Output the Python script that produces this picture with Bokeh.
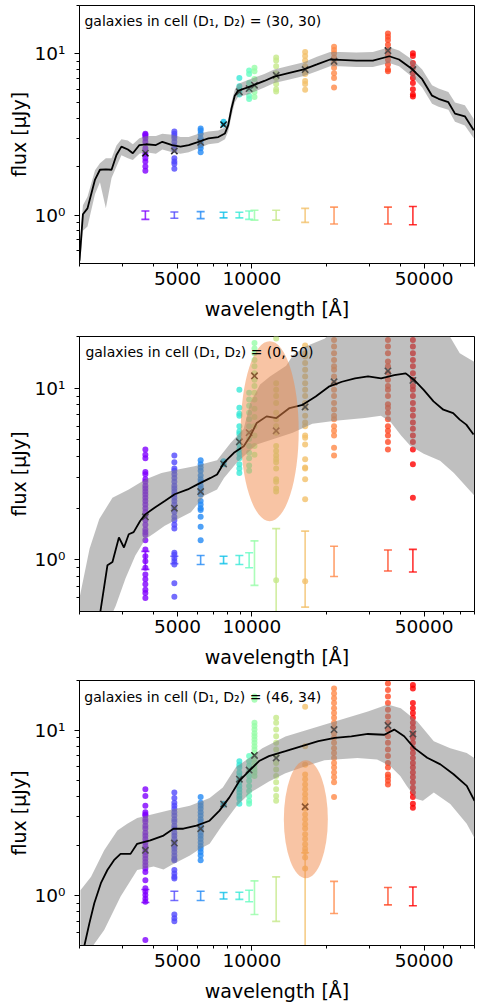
import math
from bokeh.plotting import figure
from bokeh.layouts import column
from bokeh.models import FixedTicker, CustomJSTickFormatter, Label, Range1d
from bokeh.embed import file_html
from bokeh.resources import INLINE

# ---------------- data ----------------
FILTERS = ["u", "g", "r", "i", "z", "y", "Y", "J", "H", "Ks", "ch1", "ch2"]
FILTER_WL = [3700, 4850, 6200, 7680, 8900, 9750, 10250, 12550, 16450, 21550, 35650, 45000]
CELLS = ["(30, 30)", "(0, 50)", "(46, 34)"]

# panel 1 : cell (30, 30)
P1_WL = [2000, 2065, 2155, 2312, 2421, 2558, 2698, 2825, 2958, 3143, 3291, 3499, 3722, 4083, 4335,
         4754, 5138, 5546, 6081, 6668, 7311, 7780, 8017, 8265, 8526, 8790, 9638, 10403, 11240, 12325,
         13932, 16255, 18365, 20767, 22769, 26546, 30954, 36094, 39540, 44770, 49090, 53830, 57180,
         62670, 66680, 73110, 79430]
P1_MED = [0.52, 1.01, 1.1, 1.66, 1.91, 1.92, 1.91, 2.36, 2.66, 2.55, 2.42, 2.72, 2.75, 2.72, 2.85,
          2.72, 2.66, 2.72, 2.85, 2.99, 3.05, 3.21, 3.6, 4.57, 5.51, 5.91, 6.2, 6.5, 6.8, 7.24,
          7.59, 8.03, 8.61, 9.24, 9.2, 9.1, 9.1, 9.68, 9.24, 8.03, 6.97, 5.51, 5.27,
          5.02, 4.26, 4.1, 3.36]
P1_HI = [0.62, 1.15, 1.3, 1.9, 2.1, 2.25, 2.25, 2.7, 2.95, 2.9, 2.75, 3.0, 3.1, 3.1, 3.2,
         3.15, 3.05, 3.05, 3.2, 3.3, 3.35, 3.5, 3.9, 5.0, 6.0, 6.5, 6.9, 7.2, 7.5, 8.0,
         8.4, 8.9, 9.6, 10.3, 10.3, 10.2, 10.3, 11.0, 10.5, 9.2, 8.0, 6.4, 6.1,
         5.8, 5.0, 4.8, 3.95]
P1_LO = [0.45, 0.8, 0.85, 1.35, 1.6, 1.1, 1.7, 2.0, 2.35, 2.25, 2.2, 2.4, 2.45, 2.4, 2.55,
         2.45, 2.4, 2.45, 2.6, 2.75, 2.8, 2.95, 3.3, 4.1, 5.0, 5.4, 5.6, 5.9, 6.2, 6.6,
         6.9, 7.3, 7.8, 8.4, 8.4, 8.3, 8.3, 8.8, 8.4, 7.2, 6.2, 4.9, 4.7,
         4.5, 3.8, 3.6, 3.0]
P1_POINTS = {
    "u": [3.2, 3.15, 3.1, 3.0, 2.85, 2.6, 2.4, 2.25, 2.15, 2.0, 1.88],
    "g": [3.3, 3.2, 3.1, 3.0, 2.85, 2.7, 2.55, 2.25, 2.15, 2.08, 1.94],
    "r": [3.45, 3.35, 3.2, 3.0, 2.9, 2.8, 2.7, 2.6, 2.45],
    "i": [3.8, 3.65],
    "z": [7.1, 6.3, 6.0, 5.8, 5.6],
    "y": [7.9, 7.5, 6.6, 6.05, 5.5, 5.25],
    "Y": [8.2, 7.8, 7.0, 6.3, 5.8, 5.4],
    "J": [9.5, 9.1, 8.4, 7.6, 7.1, 6.5, 6.05, 5.85],
    "H": [10.3, 9.7, 9.1, 8.4, 7.8, 7.5, 6.8, 6.5, 6.0],
    "Ks": [11.1, 10.6, 10.1, 9.5, 8.8, 8.2, 7.6, 7.1, 6.2],
    "ch1": [13.4, 12.8, 12.2, 11.4, 10.6, 9.9, 9.2, 8.6, 8.0, 7.8],
    "ch2": [10.1, 9.7, 8.8, 8.2, 7.6, 7.1, 6.6, 6.05, 5.6, 5.45],
}
P1_MODEL = [2.42, 2.5, 2.83, 3.64, 5.82, 6.1, 6.4, 7.37, 8.0, 9.0, 10.5, 8.0]
P1_ERR = [0.06, 0.045, 0.05, 0.04, 0.04, 0.06, 0.07, 0.07, 0.1, 0.12, 0.12, 0.13]

# panel 2 : cell (0, 50)
P2_WL = [2420, 2597, 2721, 2890, 3030, 3168, 3316, 3528, 3697, 4045, 4434, 4864, 5496, 6020, 6802,
         7227, 7714, 8458, 9273, 9848, 10469, 11475, 12580, 14220, 16070, 18160, 20520, 23190,
         26210, 29610, 33460, 37810, 42090, 45420, 49770, 54560, 59790, 65550, 69700, 74090, 79270]
P2_MED = [0.48, 0.93, 0.97, 1.35, 1.18, 1.41, 1.45, 1.69, 1.84, 2.02, 2.2, 2.41, 2.57, 2.75, 3.0,
          3.14, 3.68, 4.2, 4.59, 5.25, 6.27, 6.85, 6.7, 7.66, 8.0, 8.95, 10.2, 10.9,
          11.4, 11.7, 11.4, 11.9, 12.2, 11.2, 9.78, 8.37, 7.49, 7.16, 6.56, 6.13, 5.37]
P2_HI_WL = [2000, 2197, 2406, 2721, 3168, 3697, 4301, 5010, 5846, 7227, 8200, 9270, 9850, 10800,
            11840, 13780, 14650, 16500, 19800, 23200, 62000, 63550, 69700, 80000]
P2_HI = [0.6, 1.16, 1.73, 2.3, 2.57, 2.94, 3.21, 3.36, 3.51, 3.8, 4.8, 5.8, 8.2, 10.5,
         11.7, 13.5, 15.5, 17.5, 19.5, 25, 25, 20, 16, 14.2]
P2_LO_WL = [2000, 2650, 2806, 3075, 3369, 3697, 4045, 4434, 5010, 5661, 6407, 7227, 7710, 8715,
            10470, 14650, 17600, 21800, 28700, 33400, 36700, 40300, 44000, 49800, 58000, 66000, 80000]
P2_LO = [0.3, 0.45, 0.54, 0.78, 1.06, 1.32, 1.44, 1.58, 1.73, 1.89, 2.36, 2.57, 3.0, 3.7,
         4.7, 5.5, 6.2, 6.45, 6.7, 6.9, 6.3, 5.3, 4.6, 4.15, 3.78, 3.2, 2.36]
P2_POINTS = {
    "u": [4.4, 4.1, 3.9, 3.25, 3.15, 2.95, 2.85, 2.7, 2.6, 2.5, 2.4, 2.3, 2.2, 2.1, 2.0, 1.9, 1.8,
          1.7, 1.6, 1.5, 1.45, 1.4, 1.3, 1.15, 1.05, 0.98, 0.9, 0.82, 0.77, 0.72, 0.67, 0.64, 0.6],
    "g": [4.05, 3.7, 3.4, 3.3, 3.15, 3.0, 2.85, 2.7, 2.6, 2.5, 2.4, 2.3, 2.2, 2.1, 2.0, 1.9, 1.78,
          1.7, 1.6, 1.52, 1.1, 1.07, 1.02, 0.98, 0.94, 0.73, 0.61],
    "r": [3.8, 3.6, 3.45, 3.3, 3.1, 2.95, 2.85, 2.7, 2.6, 2.5, 2.4, 2.2, 2.1, 2.0, 1.95, 1.78, 1.56, 1.3],
    "i": [3.75, 3.6],
    "z": [9.8, 7.7, 7.1, 6.9, 6.0, 5.6, 5.4, 5.05, 4.7, 4.4, 4.15, 3.9, 3.6, 3.4, 3.2],
    "y": [9.4, 8.6, 7.9, 7.2, 6.6, 6.0, 5.5, 5.05, 4.6, 4.2, 3.9, 3.55, 3.3],
    "Y": [18.3, 17, 16, 14.6, 13.4, 12.2, 11.2, 10.3, 9.4, 8.6, 7.6, 6.8, 6.0, 5.3, 4.6, 4.1],
    "J": [19.5, 10.7, 9.8, 9.0, 8.2, 7.2, 6.6, 6.0, 5.5, 4.6, 4.3, 4.05, 3.85, 3.7, 3.4, 2.95, 2.85,
          2.6, 2.5, 0.76],
    "H": [17.7, 16, 15.3, 14, 12.8, 11.7, 10.7, 9.8, 9.0, 8.2, 7.7, 6.9, 6.3, 6.0, 5.3, 5.15, 4.7,
          3.85, 3.45, 3.4, 2.95, 2.25, 0.75],
    "Ks": [19.1, 17.5, 16, 14.6, 13.4, 12.8, 11.7, 10.7, 9.8, 9.0, 8.2, 7.5, 6.9, 6.6, 6.0, 5.65,
           5.3, 4.5, 4.05],
    "ch1": [19.1, 17.5, 16, 14.3, 13.4, 12.3, 11.2, 10.3, 9.8, 9.0, 8.05, 7.7, 7.2, 6.6, 6.0, 5.65,
            5.3, 4.85, 4.4],
    "ch2": [19.1, 17.5, 16, 14.6, 13.4, 12.2, 11.2, 10.3, 9.8, 9.0, 8.2, 7.5, 6.9, 6.3, 5.8, 5.3,
            4.85, 4.4, 3.6, 2.3],
}
P2_MODEL = [1.78, 2.0, 2.5, 3.62, 4.87, 5.5, 11.8, 5.64, 7.77, 10.9, 12.6, 11.1]
P2_ERR = [0.12, 0.05, 0.06, 0.05, 0.06, 0.1, 0.29, 0.52, 0.47, 0.2, 0.14, 0.15]
P2_HIGHLIGHT = [11816, 5.62]

# panel 3 : cell (46, 34)
P3_WL = [2094, 2193, 2296, 2442, 2595, 2760, 2935, 3221, 3426, 3874, 4383, 4808, 5275, 5963, 6740,
         7393, 8110, 8895, 9757, 10700, 11730, 13690, 15960, 18610, 21710, 25320, 29560, 34470,
         37800, 41480, 45520, 51440, 58190, 65800, 74420, 80000]
P3_MED = [0.5, 0.68, 0.9, 1.19, 1.43, 1.64, 1.79, 1.79, 2.06, 2.16, 2.31, 2.54, 2.54, 2.65, 2.84,
          3.27, 3.93, 4.94, 5.68, 6.52, 6.98, 7.48, 8.02, 8.59, 9.0, 9.2, 9.5, 9.4,
          10.1, 9.2, 7.83, 6.82, 6.22, 5.42, 4.61, 3.75]
P3_HI_WL = [2018, 2228, 2519, 2849, 3125, 3428, 3998, 4660, 5607, 6745, 7627, 8627, 9757, 11030,
            13690, 15960, 21710, 29560, 35560, 40200, 46900, 54700, 63800, 74400, 80900]
P3_HI = [1.08, 1.3, 1.88, 2.48, 2.72, 2.95, 3.12, 3.3, 3.5, 3.9, 4.51, 6.0, 6.8, 7.8,
         9.17, 9.83, 11.3, 13.0, 14.3, 13.6, 11.3, 8.6, 7.8, 7.3, 6.7]
P3_LO_WL = [2018, 2228, 2519, 2936, 3428, 3998, 4383, 4700, 5607, 6170, 6745, 7500, 8627, 9878,
            11730, 13690, 15960, 19700, 26800, 32200, 36400, 40000, 42500, 46500, 49400, 54700,
            63800, 74400, 80900]
P3_LO = [0.4, 0.48, 0.62, 0.99, 1.43, 1.5, 1.44, 1.53, 1.75, 1.92, 2.06, 2.6, 3.45, 4.2,
         4.9, 5.5, 5.95, 6.6, 6.8, 6.66, 6.08, 5.3, 4.6, 3.84, 3.75, 4.2,
         3.58, 2.72, 2.16]
P3_POINTS = {
    "u": [4.4, 4.0, 3.5, 3.2, 3.1, 3.05, 2.9, 2.8, 2.65, 2.55, 2.4, 2.3, 2.2, 2.1, 2.0, 1.92, 1.84,
          1.75, 1.67, 1.6, 1.53, 1.46, 1.39, 1.24, 1.11, 1.06, 1.01, 0.96, 0.92, 0.54],
    "g": [4.2, 3.9, 3.65, 3.5, 3.35, 3.2, 3.05, 2.9, 2.8, 2.65, 2.55, 2.4, 2.3, 2.2, 2.1, 2.0, 1.92,
          1.84, 1.75, 1.67, 1.64, 1.43, 1.36, 1.3, 1.27, 0.77, 0.73, 0.7],
    "r": [3.95, 3.65, 3.5, 3.35, 3.2, 3.05, 2.9, 2.8, 2.65, 2.55, 2.4, 2.3, 2.2, 2.1, 2.0, 1.92,
          1.84, 1.75, 1.64],
    "i": [3.6, 3.55],
    "z": [6.5, 6.2, 5.95, 5.55, 5.3, 5.05, 4.85, 4.6, 4.4, 4.2, 4.0, 3.85, 3.6],
    "y": [7.0, 6.5, 6.1, 5.7, 5.3, 4.95, 4.6, 4.3, 4.0, 3.75, 3.6],
    "Y": [16, 15.3, 11.1, 10.6, 10.1, 9.6, 9.2, 8.8, 8.4, 8.0, 7.65, 7.3, 7.0, 6.65, 6.35, 6.1,
          5.8, 5.55, 5.3],
    "J": [11.9, 11.1, 10.1, 9.2, 8.4, 7.65, 7.0, 6.35, 5.8, 5.3, 4.85, 4.4, 4.0, 3.75],
    "H": [13.9, 8.0, 6.2, 5.4, 5.05, 4.7, 4.4, 4.1, 3.85, 3.6, 3.35, 3.1, 2.9, 2.7, 2.55, 2.35,
          2.2, 2.05, 1.92, 1.84, 1.7, 1.46],
    "Ks": [17.9, 16.7, 15.6, 14.6, 13.6, 12.7, 11.9, 11.1, 10.4, 9.6, 9.0, 8.4, 7.8, 7.3, 6.8,
           6.35, 5.95, 5.55, 5.2, 4.85, 3.95],
    "ch1": [19.2, 17.5, 16, 14.6, 13.3, 12.1, 11.1, 10.1, 9.2, 8.4, 7.65, 7.0, 6.35, 5.95, 5.4,
            5.2, 4.95, 4.7],
    "ch2": [18.8, 17.9, 14.6, 13.6, 12.7, 11.9, 11.1, 10.4, 9.6, 9.0, 8.4, 7.8, 7.3, 6.8, 6.35,
            5.95, 5.55, 5.2, 4.85, 4.5, 4.2, 3.95, 3.6, 3.4],
}
P3_MODEL = [1.88, 2.08, 2.54, 3.58, 5.06, 5.75, 7.05, 6.8, 3.45, 10.1, 10.7, 9.5]
P3_ERR = [0.09, 0.065, 0.065, 0.045, 0.05, 0.08, 0.23, 0.3, 0.82, 0.22, 0.12, 0.13]
P3_HIGHLIGHT = [16560, 2.9]

X_MAJOR = [5000, 10000, 50000]
X_MINOR = [2000, 3000, 4000, 6000, 7000, 8000, 9000, 20000, 30000, 40000, 60000, 70000, 80000]
Y_MAJOR = [1, 10]
Y_MINOR = [0.6, 0.7, 0.8, 0.9, 2, 3, 4, 5, 6, 7, 8, 9, 20]


# ---------------- styling helpers ----------------
def rainbow(n):
    cols = []
    for k in range(n):
        t = k / (n - 1)
        r = min(1.0, abs(2 * t - 0.5))
        g = max(0.0, math.sin(math.pi * t))
        b = max(0.0, math.cos(math.pi * t / 2))
        cols.append("#%02x%02x%02x" % (round(255 * r), round(255 * g), round(255 * b)))
    return cols


COLORS = rainbow(len(FILTERS))
FONT = "DejaVu Sans"


def make_panel(cell, med_wl, med, hi_wl, hi, lo_wl, lo, points, model, errs,
               highlight, hl_size, geom, label_pos):
    h, top, bottom, left, right = geom
    p = figure(width=481, height=h, x_axis_type="log", y_axis_type="log",
               x_range=Range1d(2000, 80000), y_range=Range1d(0.5, 20),
               output_backend="svg", toolbar_location=None,
               min_border_left=left, min_border_right=right,
               min_border_top=top, min_border_bottom=bottom,
               x_axis_label="wavelength [Å]", y_axis_label="flux [μJy]",
               background_fill_color="white", border_fill_color="white")
    p.xgrid.visible = False
    p.ygrid.visible = False
    p.outline_line_color = "black"
    p.outline_line_alpha = 1.0
    p.outline_line_width = 1

    # observed photometry
    xs, ys, cs = [], [], []
    for f, wl, c in zip(FILTERS, FILTER_WL, COLORS):
        for v in points[f]:
            xs.append(wl)
            ys.append(v)
            cs.append(c)
    p.scatter(x=xs, y=ys, size=6, fill_color=cs, line_color=None, fill_alpha=0.8)

    # model photometry
    p.scatter(x=FILTER_WL, y=model, marker="x", size=9, line_color="black",
              line_width=1.6, line_alpha=0.85)

    # spectrum band
    bx = list(hi_wl) + list(lo_wl)[::-1]
    by = list(hi) + list(lo)[::-1]
    p.patch(x=bx, y=by, fill_color="#808080", fill_alpha=0.5, line_color=None)

    # median spectrum
    p.line(x=med_wl, y=med, line_color="black", line_width=1.8)

    # error bars
    e_lo = [1 - e for e in errs]
    e_hi = [1 + e for e in errs]
    p.segment(x0=FILTER_WL, y0=e_lo, x1=FILTER_WL, y1=e_hi, line_color=COLORS,
              line_width=1.6, line_alpha=0.8)
    p.scatter(x=FILTER_WL + FILTER_WL, y=e_lo + e_hi, marker="dash", size=8,
              line_color=COLORS + COLORS, line_width=1.6, line_alpha=0.8)

    if highlight is not None:
        p.ellipse(x=[highlight[0]], y=[highlight[1]], width=hl_size[0], height=hl_size[1],
                  width_units="screen", height_units="screen",
                  fill_color="#f18949", fill_alpha=0.5, line_color=None)

    p.add_layout(Label(x=label_pos[0], y=label_pos[1],
                       text="galaxies in cell (D₁, D₂) = " + cell,
                       text_font=FONT, text_font_size="14px", text_color="black",
                       text_baseline="middle", text_align="left"))

    p.xaxis.ticker = FixedTicker(ticks=X_MAJOR, minor_ticks=X_MINOR)
    p.yaxis.ticker = FixedTicker(ticks=Y_MAJOR, minor_ticks=Y_MINOR)
    p.xaxis.formatter = CustomJSTickFormatter(code="return tick.toFixed(0);")
    p.yaxis.formatter = CustomJSTickFormatter(code="return tick < 5 ? '10⁰' : '10¹';")

    for ax in (p.xaxis[0], p.yaxis[0]):
        ax.major_label_text_font = FONT
        ax.major_label_text_font_size = "18.5px"
        ax.major_label_text_color = "black"
        ax.axis_label_text_font = FONT
        ax.axis_label_text_font_size = "19px"
        ax.axis_label_text_font_style = "normal"
        ax.axis_label_text_color = "black"
        ax.major_tick_out = 5
        ax.major_tick_in = 0
        ax.minor_tick_out = 3
        ax.minor_tick_in = 0
        ax.axis_line_color = "black"
        ax.major_tick_line_color = "black"
        ax.minor_tick_line_color = "black"
    p.xaxis.major_label_standoff = 3
    p.xaxis.axis_label_standoff = 10
    p.yaxis.major_label_standoff = 9
    p.yaxis.axis_label_standoff = 2
    return p


p1 = make_panel(CELLS[0], P1_WL, P1_MED, P1_WL, P1_HI, P1_WL, P1_LO, P1_POINTS, P1_MODEL,
                P1_ERR, None, None, (322, 5, 56, 79, 2), (2094, 16.0))
p2 = make_panel(CELLS[1], P2_WL, P2_MED, P2_HI_WL, P2_HI, P2_LO_WL, P2_LO, P2_POINTS, P2_MODEL,
                P2_ERR, P2_HIGHLIGHT, (58, 180), (348, 14, 57, 73, 7), (2113, 16.2))
p3 = make_panel(CELLS[2], P3_WL, P3_MED, P3_HI_WL, P3_HI, P3_LO_WL, P3_LO, P3_POINTS, P3_MODEL,
                P3_ERR, P3_HIGHLIGHT, (44, 118), (334, 10, 56, 76, 5), (2093, 15.9))

layout = column(p1, p2, p3)
html = file_html(layout, INLINE, title="SED panels")
html = html.replace("<body>", '<body style="margin:0">', 1)
open("out.html", "w", encoding="utf-8").write(html)
